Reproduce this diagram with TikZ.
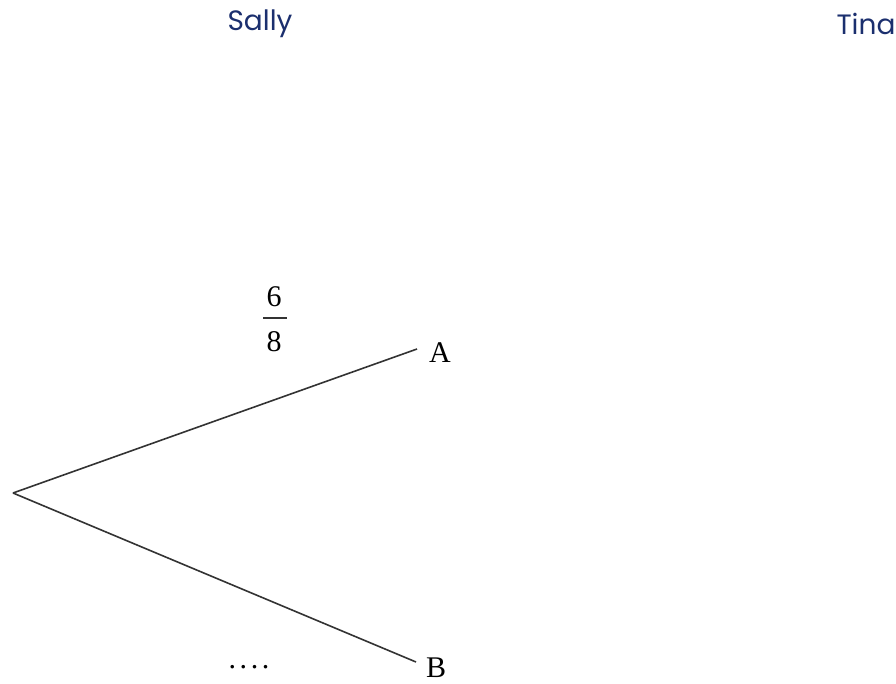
\documentclass[tikz,border=0pt]{standalone}
\usepackage{fontspec}
\setmainfont{Liberation Serif}
\newfontfamily\namefont{Poppins}
\definecolor{navy}{HTML}{1B2F6E}
\definecolor{branch}{HTML}{333333}
\begin{document}
\begin{tikzpicture}[x=1pt,y=-1pt,
  namelabel/.style={font=\namefont\fontsize{28}{32}\selectfont,text=navy,inner sep=0pt},
  leaf/.style={font=\fontsize{30}{34}\selectfont,inner sep=0pt},
  branchline/.style={draw=branch,line width=1.6pt}]
\useasboundingbox (0,0) rectangle (896,684);
\node[namelabel] (sally) at (260,24) {Sally};
\node[namelabel] (tina) at (866,24) {Tina};
\coordinate (root) at (13,493);
\coordinate (aend) at (417,349);
\coordinate (bend) at (416,662);
\node[leaf] (A) at (440,353) {A};
\node[leaf] (B) at (436,668) {B};
\draw[branchline] (root) -- (aend);
\draw[branchline] (root) -- (bend);
\node[leaf] (num) at (274,297) {6};
\node[leaf] (den) at (274,342) {8};
\coordinate (barl) at (263,318);
\coordinate (barr) at (287,318);
\draw[line width=1.4pt,draw=branch] (barl) -- (barr);
\node[leaf,font=\fontsize{30}{34}\selectfont\addfontfeature{LetterSpace=12}] (dots) at (249,667) {....};
\end{tikzpicture}
\end{document}
